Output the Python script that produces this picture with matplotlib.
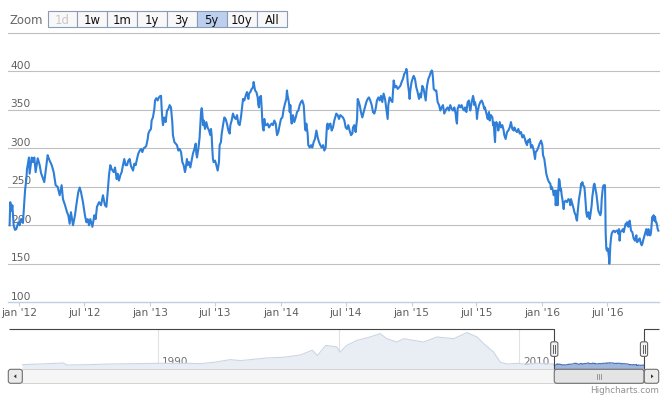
import matplotlib
matplotlib.use("Agg")
import matplotlib.pyplot as plt
import matplotlib.transforms as mtrans
from matplotlib.patches import Rectangle, FancyBboxPatch, Polygon

W, H = 672, 402

# ---------------- data (decimal years, price) ----------------
seg1_years = [2011.926, 2011.931, 2011.942, 2011.947, 2011.957, 2011.967, 2011.977, 2011.993, 2012.003, 2012.013,
              2012.023, 2012.028, 2012.044, 2012.054, 2012.059, 2012.074, 2012.079, 2012.095, 2012.105, 2012.115,
              2012.125, 2012.141, 2012.156, 2012.166, 2012.191, 2012.217, 2012.227, 2012.248, 2012.263, 2012.278,
              2012.293, 2012.309, 2012.324, 2012.334, 2012.350, 2012.365, 2012.375, 2012.385, 2012.395, 2012.411,
              2012.426, 2012.436, 2012.451, 2012.462, 2012.472, 2012.487, 2012.502, 2012.513, 2012.523, 2012.533,
              2012.543, 2012.559, 2012.574, 2012.584, 2012.594, 2012.610, 2012.625, 2012.640, 2012.655, 2012.666,
              2012.676, 2012.686, 2012.696, 2012.706, 2012.722]
seg1_values = [200, 230, 219, 226, 200, 194, 195, 204, 200, 208,
               208, 203, 245, 260, 273, 288, 267, 288, 282, 288,
               269, 287, 278, 268, 256, 291, 286, 278, 269, 252,
               250, 239, 252, 234, 226, 217, 213, 202, 217, 200,
               213, 226, 243, 249, 243, 230, 213, 204, 208, 200,
               208, 198, 213, 208, 224, 230, 226, 239, 226, 224,
               243, 265, 278, 273, 269]

seg2_years = [2012.732, 2012.745, 2012.752, 2012.762, 2012.773, 2012.783, 2012.793, 2012.803, 2012.813, 2012.824,
              2012.834, 2012.844, 2012.854, 2012.870, 2012.880, 2012.890, 2012.900, 2012.910, 2012.921, 2012.931,
              2012.941, 2012.951, 2012.961, 2012.971, 2012.982, 2012.987, 2012.997, 2013.007, 2013.012, 2013.022,
              2013.033, 2013.038, 2013.048, 2013.058, 2013.068, 2013.079, 2013.084, 2013.089, 2013.094, 2013.099,
              2013.109, 2013.119, 2013.130, 2013.140, 2013.150, 2013.160, 2013.170, 2013.175, 2013.186, 2013.196,
              2013.206, 2013.216, 2013.226, 2013.237, 2013.247, 2013.257, 2013.267, 2013.272, 2013.282, 2013.288,
              2013.298, 2013.308, 2013.318, 2013.328, 2013.339, 2013.349, 2013.354, 2013.359, 2013.369, 2013.379,
              2013.384, 2013.390, 2013.395, 2013.400, 2013.405, 2013.410, 2013.420, 2013.430, 2013.440, 2013.451,
              2013.461, 2013.466, 2013.471, 2013.476, 2013.481, 2013.486, 2013.497, 2013.507, 2013.517, 2013.527,
              2013.532, 2013.542, 2013.548, 2013.558, 2013.568, 2013.578, 2013.588, 2013.599, 2013.609]
seg2_values = [275, 260, 267, 258, 265, 269, 278, 286, 278, 278,
               284, 286, 277, 271, 280, 278, 286, 293, 297, 299,
               295, 300, 301, 303, 312, 319, 323, 325, 336, 340,
               351, 362, 365, 362, 366, 368, 368, 351, 338, 330,
               340, 334, 349, 351, 356, 353, 334, 317, 308, 306,
               304, 297, 299, 295, 282, 278, 269, 273, 286, 278,
               282, 275, 284, 293, 299, 306, 293, 288, 299, 314,
               330, 347, 352, 345, 330, 336, 325, 334, 327, 323,
               317, 325, 317, 299, 286, 282, 284, 278, 271, 282,
               304, 308, 319, 330, 340, 338, 332, 323, 319]

seg3_years = [2013.614, 2013.624, 2013.634, 2013.645, 2013.655, 2013.665, 2013.675, 2013.685, 2013.695, 2013.706,
              2013.711, 2013.721, 2013.731, 2013.741, 2013.752, 2013.757, 2013.767, 2013.777, 2013.787, 2013.792,
              2013.797, 2013.803, 2013.813, 2013.823, 2013.828, 2013.833, 2013.838, 2013.848, 2013.854, 2013.859,
              2013.864, 2013.869, 2013.874, 2013.879, 2013.889, 2013.899, 2013.910, 2013.920, 2013.930, 2013.940,
              2013.950, 2013.961, 2013.971, 2013.981, 2013.991, 2014.001, 2014.012, 2014.022, 2014.032, 2014.042,
              2014.047, 2014.052, 2014.057, 2014.063, 2014.068, 2014.073, 2014.078, 2014.083, 2014.093, 2014.103,
              2014.114, 2014.124, 2014.134, 2014.144, 2014.154, 2014.164, 2014.175, 2014.180, 2014.185, 2014.190,
              2014.195, 2014.205, 2014.210, 2014.221, 2014.231, 2014.241, 2014.251, 2014.261, 2014.272, 2014.282,
              2014.292, 2014.302, 2014.312, 2014.323, 2014.333, 2014.343, 2014.353, 2014.358, 2014.363, 2014.368,
              2014.379, 2014.389, 2014.399, 2014.409]
seg3_values = [330, 336, 345, 340, 338, 343, 332, 330, 340, 356,
               364, 362, 368, 373, 364, 371, 373, 377, 379, 386,
               381, 375, 373, 366, 356, 353, 366, 368, 351, 334,
               325, 323, 338, 330, 330, 332, 327, 330, 332, 330,
               336, 332, 317, 321, 330, 338, 340, 351, 358, 364,
               375, 368, 364, 358, 347, 356, 338, 332, 343, 334,
               340, 347, 349, 356, 360, 362, 356, 343, 327, 323,
               332, 319, 304, 301, 304, 301, 308, 312, 323, 314,
               308, 304, 301, 304, 297, 301, 330, 332, 325, 330,
               332, 323, 327, 336]

seg4_years = [2014.424, 2014.435, 2014.445, 2014.455, 2014.475, 2014.486, 2014.496, 2014.506, 2014.516, 2014.526,
              2014.537, 2014.547, 2014.552, 2014.562, 2014.572, 2014.583, 2014.588, 2014.593, 2014.603, 2014.613,
              2014.623, 2014.634, 2014.644, 2014.654, 2014.664, 2014.674, 2014.684, 2014.695, 2014.705, 2014.715,
              2014.725, 2014.735, 2014.746, 2014.756, 2014.766, 2014.776, 2014.786, 2014.797, 2014.807, 2014.817,
              2014.822, 2014.832, 2014.843, 2014.853, 2014.858, 2014.863, 2014.873, 2014.883, 2014.894, 2014.904,
              2014.914, 2014.924, 2014.934, 2014.945, 2014.955, 2014.960, 2014.965, 2014.970, 2014.980, 2014.985,
              2014.990, 2015.000, 2015.011, 2015.016, 2015.026, 2015.036, 2015.046, 2015.057, 2015.067, 2015.072,
              2015.082, 2015.092, 2015.102, 2015.108, 2015.113, 2015.118, 2015.128, 2015.138, 2015.143, 2015.154,
              2015.159, 2015.164, 2015.169, 2015.179, 2015.189, 2015.194, 2015.199, 2015.210, 2015.220, 2015.230,
              2015.240, 2015.250]
seg4_values = [345, 343, 338, 343, 340, 336, 327, 325, 330, 323,
               317, 319, 327, 330, 321, 338, 364, 362, 356, 347,
               340, 347, 353, 360, 364, 366, 362, 356, 347, 345,
               351, 362, 366, 362, 368, 360, 371, 364, 351, 338,
               356, 366, 362, 360, 375, 388, 379, 381, 377, 379,
               381, 386, 390, 397, 399, 403, 399, 386, 373, 364,
               375, 386, 392, 394, 390, 379, 373, 364, 371, 366,
               381, 377, 368, 362, 373, 381, 390, 394, 397, 401,
               399, 390, 377, 375, 375, 368, 360, 356, 349, 353,
               356, 345]

seg5_years = [2015.266, 2015.276, 2015.286, 2015.296, 2015.307, 2015.317, 2015.327, 2015.337, 2015.342, 2015.347,
              2015.352, 2015.363, 2015.373, 2015.383, 2015.393, 2015.403, 2015.409, 2015.419, 2015.429, 2015.439,
              2015.444, 2015.449, 2015.460, 2015.470, 2015.475, 2015.480, 2015.485, 2015.495, 2015.500, 2015.505,
              2015.516, 2015.526, 2015.536, 2015.546, 2015.556, 2015.561, 2015.572, 2015.582, 2015.587, 2015.592,
              2015.597, 2015.607, 2015.618, 2015.623, 2015.628, 2015.633, 2015.638, 2015.643, 2015.648, 2015.658,
              2015.663, 2015.674, 2015.684, 2015.694, 2015.704, 2015.709, 2015.719, 2015.730, 2015.740, 2015.750,
              2015.760, 2015.770, 2015.781, 2015.786, 2015.796, 2015.806, 2015.816, 2015.827, 2015.837, 2015.847,
              2015.857, 2015.867, 2015.872, 2015.883, 2015.888, 2015.893, 2015.903, 2015.908, 2015.913, 2015.923,
              2015.934, 2015.939, 2015.944, 2015.949, 2015.959, 2015.969, 2015.979, 2015.985, 2015.990, 2016.000,
              2016.005, 2016.015, 2016.020, 2016.025, 2016.030, 2016.036, 2016.041, 2016.051, 2016.061, 2016.066,
              2016.071, 2016.081, 2016.087]
seg5_values = [351, 353, 349, 356, 351, 349, 353, 345, 336, 332,
               351, 356, 353, 356, 351, 349, 353, 347, 360, 362,
               353, 349, 360, 368, 364, 356, 360, 351, 338, 347,
               356, 360, 362, 358, 351, 353, 345, 338, 343, 347,
               336, 343, 340, 330, 334, 319, 308, 330, 334, 330,
               323, 334, 327, 330, 323, 317, 312, 321, 323, 327,
               334, 325, 323, 327, 323, 321, 325, 319, 321, 314,
               317, 312, 308, 304, 310, 308, 312, 308, 301, 304,
               297, 291, 286, 295, 297, 301, 306, 308, 310, 304,
               291, 286, 280, 273, 267, 263, 260, 256, 254, 247,
               250, 245, 239]

seg6_years = [2016.097, 2016.102, 2016.107, 2016.112, 2016.117, 2016.122, 2016.127, 2016.132, 2016.138, 2016.143,
              2016.148, 2016.153, 2016.163, 2016.168, 2016.178, 2016.189, 2016.199, 2016.209, 2016.214, 2016.219,
              2016.229, 2016.240, 2016.245, 2016.255, 2016.260, 2016.265, 2016.270, 2016.275, 2016.280, 2016.285,
              2016.291, 2016.296, 2016.301, 2016.306, 2016.311, 2016.321, 2016.326, 2016.331, 2016.336, 2016.342,
              2016.347, 2016.352, 2016.357, 2016.362, 2016.367, 2016.377, 2016.382, 2016.387, 2016.393, 2016.398,
              2016.403, 2016.408, 2016.413, 2016.418, 2016.423, 2016.428, 2016.433, 2016.438, 2016.443, 2016.449,
              2016.454, 2016.459, 2016.464, 2016.469, 2016.479, 2016.482, 2016.484, 2016.489, 2016.494, 2016.500,
              2016.505, 2016.510, 2016.512, 2016.515, 2016.520, 2016.525, 2016.530, 2016.535, 2016.545, 2016.556,
              2016.566, 2016.576, 2016.581, 2016.586, 2016.591, 2016.596, 2016.607, 2016.617, 2016.622, 2016.632,
              2016.637, 2016.642, 2016.647, 2016.658, 2016.663, 2016.668, 2016.673, 2016.678, 2016.688, 2016.693,
              2016.698, 2016.708, 2016.719, 2016.724, 2016.734, 2016.744, 2016.754, 2016.760, 2016.765, 2016.770,
              2016.775, 2016.785, 2016.795, 2016.800, 2016.805, 2016.811, 2016.821, 2016.826, 2016.831, 2016.836,
              2016.841, 2016.846, 2016.851, 2016.856, 2016.862, 2016.867, 2016.872, 2016.877, 2016.882, 2016.887]
seg6_values = [245, 226, 234, 245, 226, 243, 260, 258, 245, 247,
               239, 234, 221, 230, 232, 230, 234, 232, 226, 234,
               228, 221, 217, 213, 208, 206, 217, 226, 234, 239,
               245, 254, 252, 256, 252, 250, 241, 228, 217, 211,
               213, 217, 211, 208, 213, 226, 237, 243, 252, 254,
               250, 245, 241, 234, 226, 219, 217, 215, 213, 217,
               234, 243, 250, 252, 252, 221, 191, 170, 167, 170,
               165, 157, 150, 157, 174, 183, 189, 191, 193, 191,
               193, 193, 189, 195, 180, 191, 193, 195, 191, 198,
               202, 200, 204, 198, 204, 206, 200, 193, 191, 187,
               183, 180, 187, 178, 180, 183, 176, 174, 176, 180,
               183, 189, 195, 191, 187, 195, 187, 187, 191, 202,
               211, 208, 213, 206, 211, 204, 204, 200, 195, 193]

main_years = seg1_years + seg2_years + seg3_years + seg4_years + seg5_years + seg6_years
main_values = seg1_values + seg2_values + seg3_values + seg4_values + seg5_values + seg6_values

# navigator history (before the selected range)
nav_years = [1982.50, 1983.50, 1984.79, 1984.98, 1986.09, 1987.38, 1989.97, 1991.63, 1992.37, 1993.10,
             1994.03, 1994.58, 1996.06, 1996.98, 1997.91, 1998.55, 1998.83, 1999.29, 1999.90, 2000.08,
             2000.45, 2001.01, 2001.74, 2002.30, 2002.67, 2003.22, 2003.60, 2004.70, 2005.44, 2006.37,
             2007.10, 2007.66, 2008.03, 2008.58, 2008.76, 2008.95, 2009.32, 2009.87, 2010.24, 2010.98,
             2011.90]
nav_values = [237, 295, 382, 208, 237, 295, 353, 353, 324, 440,
              672, 585, 817, 875, 1078, 1484, 1020, 1890, 1774, 1310,
              1890, 2325, 2615, 2905, 2470, 2180, 2470, 2180, 2615, 2470,
              2992, 2615, 2035, 1310, 875, 440, 295, 353, 295, 353,
              295]

y_grid_values = [150, 200, 250, 300, 350, 400, 450]
y_label_values = [100, 150, 200, 250, 300, 350, 400]
x_tick_years = [2012.0, 2012.496, 2013.0, 2013.496, 2014.0, 2014.496, 2015.0, 2015.496, 2016.0, 2016.496]
x_tick_labels = ["jan '12", "jul '12", "jan '13", "jul '13", "jan '14", "jul '14",
                 "jan '15", "jul '15", "jan '16", "jul '16"]
nav_grid_years = [1990, 2000, 2010]
zoom_buttons = ["1d", "1w", "1m", "1y", "3y", "5y", "10y", "All"]
selected_button = "5y"
disabled_buttons = ["1d"]

LINE = "#2f7ed8"
LABEL = "#606060"

fig = plt.figure(figsize=(W / 100, H / 100), dpi=100)
fig.patch.set_facecolor("white")


def box(x0, y0, x1, y1):
    return [x0 / W, 1 - y1 / H, (x1 - x0) / W, (y1 - y0) / H]


# ---------------- main chart ----------------
ax = fig.add_axes(box(8.3, 33.7, 659.0, 303.3))
ax.set_xlim(main_years[0] - 0.01, main_years[-1] + 0.005)
ax.set_ylim(100, 450)
for s in ax.spines.values():
    s.set_visible(False)
ax.set_yticks([])
ax.set_xticks(x_tick_years)
ax.set_xticklabels([])
ax.tick_params(axis="x", length=3, width=0.8, color="#C0D0E0", direction="out")
ax.patch.set_alpha(0)

for v in y_grid_values:
    ax.axhline(v, color="#C0C0C0", lw=0.8, zorder=1, clip_on=False)
ax.axhline(100, color="#C0D0E0", lw=1.0, zorder=1, clip_on=False)

ytrans = mtrans.offset_copy(mtrans.blended_transform_factory(fig.transFigure, ax.transData),
                            fig=fig, x=0, y=4.7, units="points")
for v in y_label_values:
    ax.text(10.7 / W, v, str(v), transform=ytrans, ha="left", va="center",
            fontsize=7.7, color=LABEL, zorder=2)

xtrans = mtrans.blended_transform_factory(ax.transData, fig.transFigure)
for xv, lab in zip(x_tick_years, x_tick_labels):
    ax.text(xv, 1 - 313.0 / H, lab, transform=xtrans, ha="center", va="center",
            fontsize=7.7, color=LABEL, clip_on=False)

ax.plot(main_years, main_values, color=LINE, lw=1.5, zorder=3,
        solid_joinstyle="round", clip_on=False)

# ---------------- navigator ----------------
NX0, NX1, NY0, NY1 = 22.0, 644.0, 330.3, 370.0
nav = fig.add_axes(box(NX0, NY0, NX1, NY1))
nav.axis("off")
all_vals = nav_values + main_values
vmin, vmax = min(all_vals), max(all_vals)
rng = vmax - vmin
lo, hi = vmin - 0.1 * rng, vmax + 0.1 * rng
nav.set_xlim(nav_years[0], main_years[-1])
nav.set_ylim(lo, hi)
for yr in nav_grid_years:
    nav.axvline(yr, color="#e2e2e2", lw=0.8, zorder=0)
ntrans = mtrans.offset_copy(mtrans.blended_transform_factory(nav.transData, nav.transAxes),
                            fig=fig, x=3.0, y=0, units="points")
for yr in nav_grid_years:
    nav.text(yr, 0.2, str(yr), transform=ntrans, ha="left", va="center",
             fontsize=7.5, color="#707070", zorder=1)

out_x = nav_years + [main_years[0]]
out_y = nav_values + [main_values[0]]
nav.fill_between(out_x, out_y, lo, color="#e9eef5", lw=0, zorder=2)
nav.plot(out_x, out_y, color="#cbd6e4", lw=0.8, zorder=3)
nav.fill_between(main_years, main_values, lo, color="#9fb5db", lw=0, zorder=2)
nav.plot(main_years, main_values, color="#4a72b4", lw=0.8, zorder=3)

# pixel positions of the selection handles derived from the data
span = main_years[-1] - nav_years[0]
hx_left = NX0 + (main_years[0] - nav_years[0]) / span * (NX1 - NX0)
hx_right = NX0 + (main_years[-1] - nav_years[0]) / span * (NX1 - NX0)

# ---------------- decorations (pixel space) ----------------
deco = fig.add_axes([0, 0, 1, 1])
deco.set_xlim(0, W)
deco.set_ylim(H, 0)
deco.axis("off")

# navigator outline
deco.plot([9, hx_left, hx_left], [NY0, NY0, NY1], color="#444444", lw=0.8, solid_capstyle="butt")
deco.plot([hx_right, hx_right, 659], [NY1, NY0, NY0], color="#444444", lw=0.8, solid_capstyle="butt")

# scrollbar
SY0, SY1 = 370.3, 384.3
deco.add_patch(Rectangle((22, SY0), 622, SY1 - SY0, fc="#f6f6f6", ec="#d2d2d2", lw=0.7))
deco.add_patch(FancyBboxPatch((hx_left, SY0), hx_right - hx_left, SY1 - SY0,
                              boxstyle="round,pad=0,rounding_size=2.5",
                              fc="#e4e4e4", ec="#707070", lw=0.8))
cx = (hx_left + hx_right) / 2
for dx in (-2, 0, 2):
    deco.plot([cx + dx, cx + dx], [374.8, 379.8], color="#8a8a8a", lw=0.6)
deco.add_patch(FancyBboxPatch((8.3, SY0), 14.0, SY1 - SY0,
                              boxstyle="round,pad=0,rounding_size=2.5",
                              fc="#ebebeb", ec="#707070", lw=0.8))
deco.add_patch(FancyBboxPatch((644.3, SY0), 14.4, SY1 - SY0,
                              boxstyle="round,pad=0,rounding_size=2.5",
                              fc="#ebebeb", ec="#707070", lw=0.8))
deco.add_patch(Polygon([[13.8, 377.3], [16.3, 375.3], [16.3, 379.3]], closed=True, fc="#333333", ec="none"))
deco.add_patch(Polygon([[653.5, 377.3], [651.0, 375.3], [651.0, 379.3]], closed=True, fc="#333333", ec="none"))

# handles
for hx in (hx_left, hx_right):
    deco.add_patch(FancyBboxPatch((hx - 3.6, 342.8), 7.2, 14.6,
                                  boxstyle="round,pad=0,rounding_size=2",
                                  fc="#f2f2f2", ec="#666666", lw=0.8, zorder=5))
    for dx in (-1.0, 1.0):
        deco.plot([hx + dx, hx + dx], [346.0, 354.2], color="#444444", lw=0.6, zorder=6)

# range selector
deco.text(9.3, 20.5, "Zoom", ha="left", va="center", fontsize=8.4, color="#666666")
edges = [47.7, 77.3, 106.7, 136.7, 166.7, 196.7, 226.7, 256.7, 287.3]
for i, lab in enumerate(zoom_buttons):
    x0, x1 = edges[i], edges[i + 1]
    sel = lab == selected_button
    deco.add_patch(Rectangle((x0, 12.0), x1 - x0, 16.0,
                             fc="#bccfee" if sel else "#f8f8f8", ec="#8a9bb3", lw=0.8))
    col = "#c8c8c8" if lab in disabled_buttons else "#111111"
    deco.text((x0 + x1) / 2, 20.3, lab, ha="center", va="center", fontsize=8.4, color=col)

# credits
deco.text(659.3, 391.0, "Highcharts.com", ha="right", va="center", fontsize=6.3, color="#909090")

fig.savefig("out.png", dpi=100)
